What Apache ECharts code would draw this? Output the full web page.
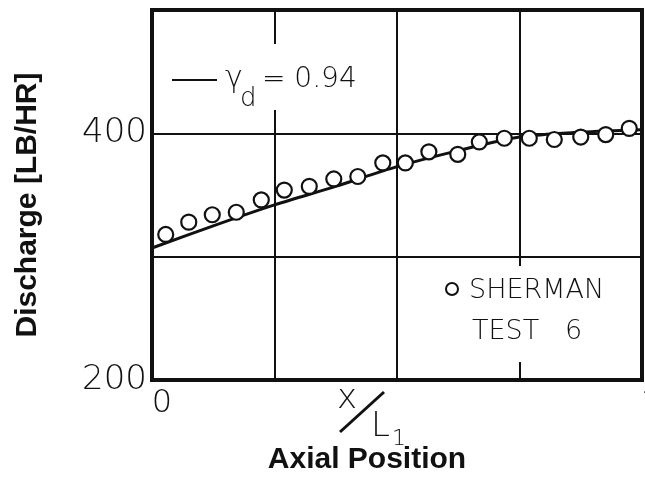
<!DOCTYPE html>
<html>
<head>
<meta charset="utf-8">
<script src="https://cdn.jsdelivr.net/npm/echarts@6/dist/echarts.min.js"></script>
<style>
  html, body { margin: 0; padding: 0; background: #fff; }
  #chart { width: 645px; height: 486px; }
</style>
</head>
<body>
<div id="chart"></div>
<script>
// Model curve (gamma_d = 0.94): discharge vs. normalised axial position
const modelX = [0, 0.125, 0.25, 0.375, 0.5, 0.625, 0.75, 0.875, 1.0];
const modelY = [307, 325, 342, 357, 373, 386, 397, 401, 403];

// Sherman test 6 measurements
const testX = [0.028, 0.075, 0.123, 0.172, 0.223, 0.270, 0.321, 0.371, 0.420, 0.471,
               0.517, 0.565, 0.624, 0.668, 0.719, 0.770, 0.821, 0.875, 0.926, 0.974];
const testY = [318, 328, 334, 336, 346, 354, 357, 363, 365, 376,
               376, 385, 383, 393, 396, 396, 395, 397, 399, 404];

// Labelled ticks
const yTickLabels = [200, 400];
const xTickLabels = [0, 1];

const FONT = "'DejaVu Sans', 'Liberation Sans', sans-serif";
const BOLD = "'Liberation Sans', Arial, sans-serif";

const chart = echarts.init(document.getElementById('chart'), null, { renderer: 'canvas' });

const tickRich = { fontFamily: FONT, fontSize: 32, fontWeight: 200, color: '#111' };

chart.setOption({
  animation: false,
  backgroundColor: '#fff',
  grid: {
    left: 152, right: 3, top: 10, bottom: 106,
    containLabel: false, outerBoundsMode: 'none',
    show: true, borderColor: '#111', borderWidth: 4, backgroundColor: 'transparent'
  },
  xAxis: {
    type: 'value', min: 0, max: 1, interval: 0.25,
    axisLine: { show: true, lineStyle: { color: '#111', width: 4 } },
    axisTick: { show: false },
    splitLine: { show: true, lineStyle: { color: '#111', width: 2 } },
    axisLabel: {
      margin: 8,
      color: '#111', fontFamily: FONT, fontSize: 32, fontWeight: 200,
      formatter: v => xTickLabels.includes(v) ? (v === 0 ? '{z|0}' : '{o|' + v + '}') : '',
      rich: {
        z: Object.assign({ padding: [0, 0, 0, 20] }, tickRich),
        o: Object.assign({ padding: [0, 0, 0, 18] }, tickRich)
      }
    }
  },
  yAxis: {
    type: 'value', min: 200, max: 500, interval: 100,
    axisLine: { show: true, lineStyle: { color: '#111', width: 4 } },
    axisTick: { show: false },
    splitLine: { show: true, lineStyle: { color: '#111', width: 2 } },
    axisLabel: {
      margin: 5,
      color: '#111', fontFamily: FONT, fontSize: 34, fontWeight: 200,
      formatter: v => yTickLabels.includes(v) ? String(v) : ''
    }
  },
  graphic: [
    // white boxes behind the annotation texts (they interrupt the grid lines)
    { type: 'rect', z: 1, shape: { x: 165, y: 44, width: 200, height: 66 }, style: { fill: '#fff' } },
    { type: 'rect', z: 1, shape: { x: 436, y: 266, width: 190, height: 96 }, style: { fill: '#fff' } },

    // model-curve key
    { type: 'line', z: 3, shape: { x1: 172, y1: 80, x2: 217, y2: 80 }, style: { stroke: '#111', lineWidth: 2 } },
    { type: 'text', z: 3, x: 225, y: 64, style: { text: 'γ', font: `200 30px ${FONT}`, fill: '#111' } },
    { type: 'text', z: 3, x: 240, y: 86, style: { text: 'd', font: `200 26px ${FONT}`, fill: '#111' } },
    { type: 'text', z: 3, x: 262, y: 66, style: { text: '= 0.94', font: `200 28px ${FONT}`, fill: '#111' } },

    // measurement key
    { type: 'circle', z: 3, shape: { cx: 452, cy: 289, r: 6 }, style: { fill: '#fff', stroke: '#111', lineWidth: 2 } },
    { type: 'text', z: 3, x: 469, y: 277, style: { text: 'SHERMAN', font: `200 27px ${FONT}`, fill: '#111' } },
    { type: 'text', z: 3, x: 472, y: 318, style: { text: 'TEST   6', font: `200 27px ${FONT}`, fill: '#111' } },

    // x-axis variable x/L1
    { type: 'text', z: 3, x: 337, y: 382, style: { text: 'x', font: `200 34px ${FONT}`, fill: '#111' } },
    { type: 'line', z: 3, shape: { x1: 340, y1: 432, x2: 384, y2: 392 }, style: { stroke: '#111', lineWidth: 3 } },
    { type: 'text', z: 3, x: 371, y: 410, style: { text: 'L', font: `200 34px ${FONT}`, fill: '#111' } },
    { type: 'text', z: 3, x: 392, y: 428, style: { text: '1', font: `200 22px ${FONT}`, fill: '#111' } },

    // axis titles
    { type: 'text', z: 3, x: 367, y: 460, style: { text: 'Axial Position', font: `bold 30px ${BOLD}`, fill: '#111', align: 'center', verticalAlign: 'middle' } },
    { type: 'text', z: 3, x: 28, y: 205, rotation: Math.PI / 2,
      style: { text: 'Discharge [LB/HR]', font: `bold 30px ${BOLD}`, fill: '#111', align: 'center', verticalAlign: 'middle' } }
  ],
  series: [
    {
      type: 'line', name: 'model', z: 4,
      data: modelX.map((x, i) => [x, modelY[i]]),
      smooth: 0.3, showSymbol: false,
      lineStyle: { color: '#111', width: 3 }
    },
    {
      type: 'scatter', name: 'Sherman test 6', z: 5,
      data: testX.map((x, i) => [x, testY[i]]),
      symbol: 'circle', symbolSize: 15,
      itemStyle: { color: '#fff', borderColor: '#111', borderWidth: 2.2, opacity: 1 }
    }
  ]
});
</script>
</body>
</html>
